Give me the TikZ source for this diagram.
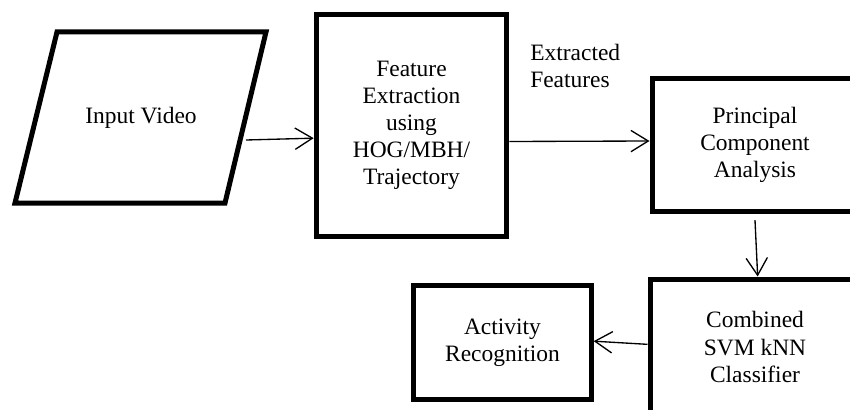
\documentclass[tikz,border=0pt]{standalone}
\usepackage{fontspec}
\setmainfont{Liberation Serif}
\usetikzlibrary{arrows.meta}
\begin{document}
\begin{tikzpicture}[x=0.75pt, y=-0.75pt, >={Straight Barb[length=13pt,width=16pt]},
        box/.style={draw, line width=3.75pt, align=center, inner sep=0pt,
                    font=\fontsize{17.6}{20.3}\selectfont},
        arr/.style={->, line width=1pt}]
    \useasboundingbox (0,0) rectangle (850,410);
    % input parallelogram
    \draw[line width=3.75pt] (57,32) -- (266,32) -- (225,203) -- (15,203) -- cycle;
    \node[align=center, font=\fontsize{17.6}{20.3}\selectfont] (vid) at (141,117.5) {Input Video};
    \node[box, minimum width=143pt, minimum height=166pt] (feat) at (411.5,125.5)
          {Feature\\Extraction\\using\\HOG/MBH/\\Trajectory};
    \node[box, minimum width=154.5pt, minimum height=99pt] (pca) at (755,145)
          {Principal\\Component\\Analysis};
    \node[box, minimum width=157.5pt, minimum height=102pt] (clf) at (755,347)
          {Combined\\SVM kNN\\Classifier};
    \node[box, minimum width=133pt, minimum height=86pt] (act) at (502.5,342.5)
          {Activity\\Recognition};
    \node[anchor=west, align=left, inner sep=0pt, font=\fontsize{17.6}{20.3}\selectfont]
          (lbl) at (530,66) {Extracted\\Features};
    % connectors
    \coordinate (vidout) at (246,140);
    \draw[arr] (vidout) -- ([yshift=-9.5pt]feat.west);
    \draw[arr] ([yshift=-12pt]feat.east) -- ([yshift=3pt]pca.west);
    \draw[arr] ([yshift=-5pt]pca.south) -- ([xshift=2pt]clf.north);
    \draw[arr] ([yshift=2pt]clf.west) -- ([yshift=1pt]act.east);
\end{tikzpicture}
\end{document}
